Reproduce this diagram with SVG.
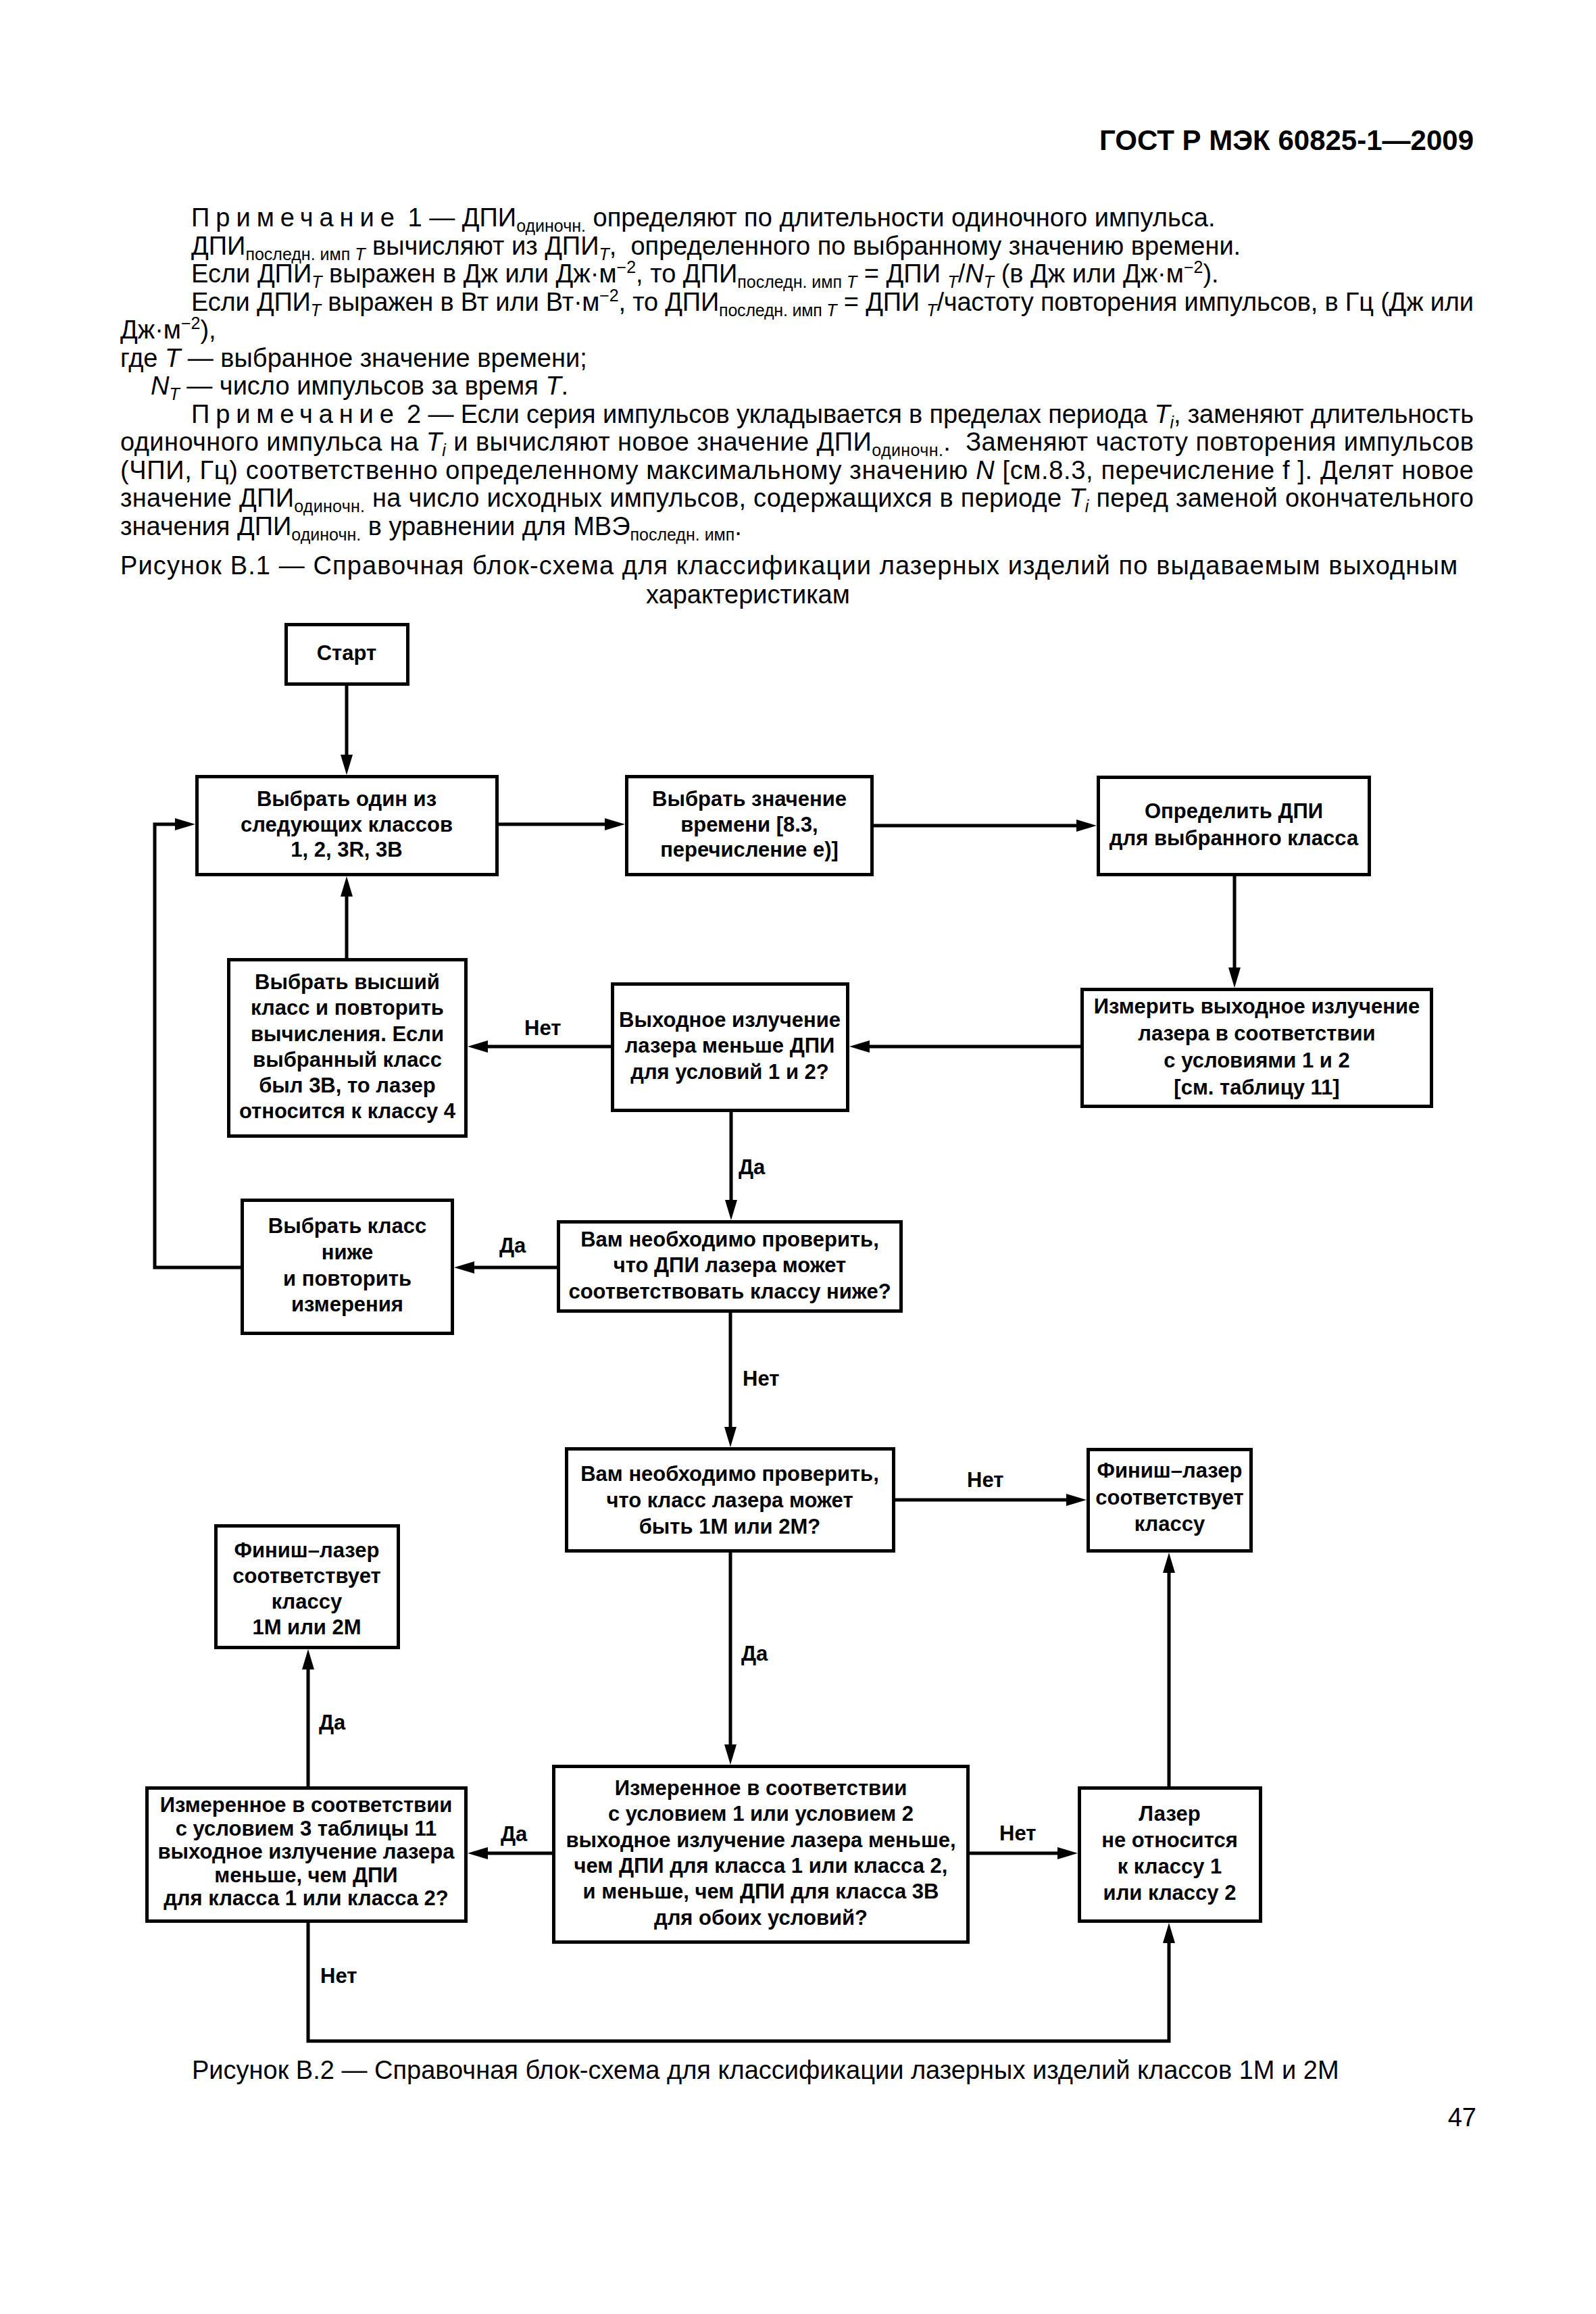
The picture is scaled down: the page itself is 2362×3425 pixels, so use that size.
<svg xmlns="http://www.w3.org/2000/svg" width="2362" height="3425" viewBox="0 0 2362 3425">
<style>
.bg{fill:#fff}
.box{fill:#fff;stroke:#000;stroke-width:5}
.conn{fill:none;stroke:#000;stroke-width:5;stroke-linejoin:miter}
.bt{font-family:"Liberation Sans",Arial,sans-serif;font-size:31px;font-weight:bold;text-anchor:middle;fill:#000}
.lbl{font-family:"Liberation Sans",Arial,sans-serif;font-size:31px;font-weight:bold;fill:#000}
.body{font-family:"Liberation Sans",Arial,sans-serif;font-size:38px;fill:#000}
.hdr{font-family:"Liberation Sans",Arial,sans-serif;font-size:42px;font-weight:bold;text-anchor:end;fill:#000}
.sub{font-size:25px}
.it{font-style:italic}
.sp{letter-spacing:9px}
</style>
<defs>
<marker id="ah" markerWidth="30" markerHeight="18" refX="15" refY="9" orient="auto" markerUnits="userSpaceOnUse">
<path d="M0,0 L30,9 L0,18 z" fill="#000"/>
</marker>
</defs>
<rect class="bg" x="0" y="0" width="2362" height="3425"/>

<g id="page-text">
<text class="hdr" x="2181" y="222">ГОСТ Р МЭК 60825-1—2009</text>
<text class="body" x="283" y="335"><tspan class="sp">Примечание</tspan> 1 — ДПИ<tspan class="sub" dy="8">одиночн.</tspan><tspan dy="-8"> определяют по длительности одиночного импульса.</tspan></text>
<text class="body" x="283" y="377">ДПИ<tspan class="sub" dy="8">последн. имп </tspan><tspan class="sub it">T</tspan><tspan dy="-8"> вычисляют из ДПИ</tspan><tspan class="sub it" dy="8">T</tspan><tspan dy="-8">,&#160; определенного по выбранному значению времени.</tspan></text>
<text class="body" x="283" y="418">Если ДПИ<tspan class="sub it" dy="8">T</tspan><tspan dy="-8"> выражен в Дж или Дж·м</tspan><tspan class="sub" dy="-14">−2</tspan><tspan dy="14">, то ДПИ</tspan><tspan class="sub" dy="8">последн. имп </tspan><tspan class="sub it">T</tspan><tspan dy="-8"> = ДПИ </tspan><tspan class="sub it" dy="8">T</tspan><tspan dy="-8">/</tspan><tspan class="it">N</tspan><tspan class="sub it" dy="8">T</tspan><tspan dy="-8"> (в Дж или Дж·м</tspan><tspan class="sub" dy="-14">−2</tspan><tspan dy="14">).</tspan></text>
<text class="body" x="283" y="460" textLength="1898" lengthAdjust="spacing">Если ДПИ<tspan class="sub it" dy="8">T</tspan><tspan dy="-8"> выражен в Вт или Вт·м</tspan><tspan class="sub" dy="-14">−2</tspan><tspan dy="14">, то ДПИ</tspan><tspan class="sub" dy="8">последн. имп </tspan><tspan class="sub it">T</tspan><tspan dy="-8"> = ДПИ </tspan><tspan class="sub it" dy="8">T</tspan><tspan dy="-8">/частоту повторения импульсов, в Гц (Дж или</tspan></text>
<text class="body" x="178" y="501">Дж·м<tspan class="sub" dy="-14">−2</tspan><tspan dy="14">),</tspan></text>
<text class="body" x="178" y="543">где <tspan class="it">T</tspan> — выбранное значение времени;</text>
<text class="body" x="223" y="584"><tspan class="it">N</tspan><tspan class="sub it" dy="8">T</tspan><tspan dy="-8"> — число импульсов за время </tspan><tspan class="it">T</tspan>.</text>
<text class="body" x="283" y="626" textLength="1898" lengthAdjust="spacing"><tspan class="sp">Примечание</tspan> 2 — Если серия импульсов укладывается в пределах периода <tspan class="it">T</tspan><tspan class="sub it" dy="8">i</tspan><tspan dy="-8">, заменяют длительность</tspan></text>
<text class="body" x="178" y="667" textLength="2003" lengthAdjust="spacing">одиночного импульса на <tspan class="it">T</tspan><tspan class="sub it" dy="8">i</tspan><tspan dy="-8"> и вычисляют новое значение ДПИ</tspan><tspan class="sub" dy="8">одиночн.</tspan><tspan dy="-8">.&#160; Заменяют частоту повторения импульсов</tspan></text>
<text class="body" x="178" y="709" textLength="2003" lengthAdjust="spacing">(ЧПИ, Гц) соответственно определенному максимальному значению <tspan class="it">N</tspan> [см.8.3, перечисление f ]. Делят новое</text>
<text class="body" x="178" y="750" textLength="2003" lengthAdjust="spacing">значение ДПИ<tspan class="sub" dy="8">одиночн.</tspan><tspan dy="-8"> на число исходных импульсов, содержащихся в периоде </tspan><tspan class="it">T</tspan><tspan class="sub it" dy="8">i</tspan><tspan dy="-8"> перед заменой окончательного</tspan></text>
<text class="body" x="178" y="792">значения ДПИ<tspan class="sub" dy="8">одиночн.</tspan><tspan dy="-8"> в уравнении для МВЭ</tspan><tspan class="sub" dy="8">последн. имп</tspan><tspan dy="-8">.</tspan></text>
<text class="body" x="178" y="850" textLength="1979" lengthAdjust="spacing">Рисунок В.1 — Справочная блок-схема для классификации лазерных изделий по выдаваемым выходным</text>
<text class="body" x="956" y="893">характеристикам</text>
<text class="body" x="284" y="3077">Рисунок В.2 — Справочная блок-схема для классификации лазерных изделий классов 1М и 2М</text>
<text class="body" x="2185" y="3147" text-anchor="end">47</text>
</g>

<g id="connectors">
<path class="conn" d="M513,1015 V1132" marker-end="url(#ah)"/>
<path class="conn" d="M738,1220 H910" marker-end="url(#ah)"/>
<path class="conn" d="M1293,1222 H1608" marker-end="url(#ah)"/>
<path class="conn" d="M1827,1297 V1447" marker-end="url(#ah)"/>
<path class="conn" d="M1599,1549 H1272" marker-end="url(#ah)"/>
<path class="conn" d="M904,1549 H707" marker-end="url(#ah)"/>
<path class="conn" d="M513,1418 V1312" marker-end="url(#ah)"/>
<path class="conn" d="M1082,1646 V1791" marker-end="url(#ah)"/>
<path class="conn" d="M824,1876 H687" marker-end="url(#ah)"/>
<path class="conn" d="M356,1876 H229 V1220 H274" marker-end="url(#ah)"/>
<path class="conn" d="M1081,1943 V2127" marker-end="url(#ah)"/>
<path class="conn" d="M1325,2220 H1593" marker-end="url(#ah)"/>
<path class="conn" d="M1081,2298 V2597" marker-end="url(#ah)"/>
<path class="conn" d="M1435,2743 H1580" marker-end="url(#ah)"/>
<path class="conn" d="M1730,2644 V2313" marker-end="url(#ah)"/>
<path class="conn" d="M817,2743 H707" marker-end="url(#ah)"/>
<path class="conn" d="M456,2644 V2456" marker-end="url(#ah)"/>
<path class="conn" d="M456,2846 V3021 H1730 V2861" marker-end="url(#ah)"/>
<text class="lbl" x="776" y="1532">Нет</text>
<text class="lbl" x="1093" y="1738">Да</text>
<text class="lbl" x="739" y="1854">Да</text>
<text class="lbl" x="1099" y="2051">Нет</text>
<text class="lbl" x="1431" y="2201">Нет</text>
<text class="lbl" x="1097" y="2458">Да</text>
<text class="lbl" x="1479" y="2724">Нет</text>
<text class="lbl" x="741" y="2725">Да</text>
<text class="lbl" x="472" y="2560">Да</text>
<text class="lbl" x="474" y="2935">Нет</text>
</g>

<g id="start">
<rect class="box" x="423.5" y="924.5" width="180" height="88"/>
<text class="bt" x="513" y="977">Старт</text>
</g>
<g id="select-class">
<rect class="box" x="291.5" y="1149.5" width="444" height="145"/>
<text class="bt"><tspan x="513" y="1193">Выбрать один из</tspan><tspan x="513" y="1231">следующих классов</tspan><tspan x="513" y="1268">1, 2, 3R, 3B</tspan></text>
</g>
<g id="select-time">
<rect class="box" x="927.5" y="1149.5" width="363" height="145"/>
<text class="bt"><tspan x="1109" y="1193">Выбрать значение</tspan><tspan x="1109" y="1231">времени [8.3,</tspan><tspan x="1109" y="1268">перечисление е)]</tspan></text>
</g>
<g id="determine-dpi">
<rect class="box" x="1625.5" y="1150.5" width="401" height="144"/>
<text class="bt"><tspan x="1826" y="1211">Определить ДПИ</tspan><tspan x="1826" y="1251">для выбранного класса</tspan></text>
</g>
<g id="measure">
<rect class="box" x="1601.5" y="1464.5" width="517" height="173"/>
<text class="bt"><tspan x="1860" y="1500">Измерить выходное излучение</tspan><tspan x="1860" y="1540">лазера в соответствии</tspan><tspan x="1860" y="1580">с условиями 1 и 2</tspan><tspan x="1860" y="1620">[см. таблицу 11]</tspan></text>
</g>
<g id="output-less">
<rect class="box" x="906.5" y="1456.5" width="348" height="187"/>
<text class="bt"><tspan x="1080" y="1520">Выходное излучение</tspan><tspan x="1080" y="1558">лазера меньше ДПИ</tspan><tspan x="1080" y="1597">для условий 1 и 2?</tspan></text>
</g>
<g id="select-higher">
<rect class="box" x="338.5" y="1420.5" width="351" height="261"/>
<text class="bt"><tspan x="514" y="1464">Выбрать высший</tspan><tspan x="514" y="1502">класс и повторить</tspan><tspan x="514" y="1541">вычисления. Если</tspan><tspan x="514" y="1579">выбранный класс</tspan><tspan x="514" y="1617">был 3В, то лазер</tspan><tspan x="514" y="1655">относится к классу 4</tspan></text>
</g>
<g id="check-lower">
<rect class="box" x="826.5" y="1808.5" width="507" height="132"/>
<text class="bt"><tspan x="1080" y="1845">Вам необходимо проверить,</tspan><tspan x="1080" y="1883">что ДПИ лазера может</tspan><tspan x="1080" y="1922">соответствовать классу ниже?</tspan></text>
</g>
<g id="select-lower">
<rect class="box" x="358.5" y="1776.5" width="311" height="197"/>
<text class="bt"><tspan x="514" y="1825">Выбрать класс</tspan><tspan x="514" y="1864">ниже</tspan><tspan x="514" y="1903">и повторить</tspan><tspan x="514" y="1941">измерения</tspan></text>
</g>
<g id="check-1m2m">
<rect class="box" x="838.5" y="2144.5" width="484" height="151"/>
<text class="bt"><tspan x="1080" y="2192">Вам необходимо проверить,</tspan><tspan x="1080" y="2231">что класс лазера может</tspan><tspan x="1080" y="2270">быть 1М или 2М?</tspan></text>
</g>
<g id="finish-class">
<rect class="box" x="1610.5" y="2145.5" width="241" height="150"/>
<text class="bt"><tspan x="1731" y="2187">Финиш–лазер</tspan><tspan x="1731" y="2227">соответствует</tspan><tspan x="1731" y="2266">классу</tspan></text>
</g>
<g id="measured-cond12">
<rect class="box" x="819.5" y="2614.5" width="613" height="260"/>
<text class="bt"><tspan x="1126" y="2657">Измеренное в соответствии</tspan><tspan x="1126" y="2695">с условием 1 или условием 2</tspan><tspan x="1126" y="2734">выходное излучение лазера меньше,</tspan><tspan x="1126" y="2772">чем ДПИ для класса 1 или класса 2,</tspan><tspan x="1126" y="2810">и меньше, чем ДПИ для класса 3В</tspan><tspan x="1126" y="2849">для обоих условий?</tspan></text>
</g>
<g id="not-class12">
<rect class="box" x="1597.5" y="2646.5" width="268" height="197"/>
<text class="bt"><tspan x="1731" y="2695">Лазер</tspan><tspan x="1731" y="2734">не относится</tspan><tspan x="1731" y="2773">к классу 1</tspan><tspan x="1731" y="2812">или классу 2</tspan></text>
</g>
<g id="measured-cond3">
<rect class="box" x="217.5" y="2646.5" width="472" height="197"/>
<text class="bt"><tspan x="453" y="2682">Измеренное в соответствии</tspan><tspan x="453" y="2717">с условием 3 таблицы 11</tspan><tspan x="453" y="2751">выходное излучение лазера</tspan><tspan x="453" y="2786">меньше, чем ДПИ</tspan><tspan x="453" y="2820">для класса 1 или класса 2?</tspan></text>
</g>
<g id="finish-1m2m">
<rect class="box" x="319.5" y="2258.5" width="270" height="180"/>
<text class="bt"><tspan x="454" y="2305">Финиш–лазер</tspan><tspan x="454" y="2343">соответствует</tspan><tspan x="454" y="2381">классу</tspan><tspan x="454" y="2419">1М или 2М</tspan></text>
</g>
</svg>
